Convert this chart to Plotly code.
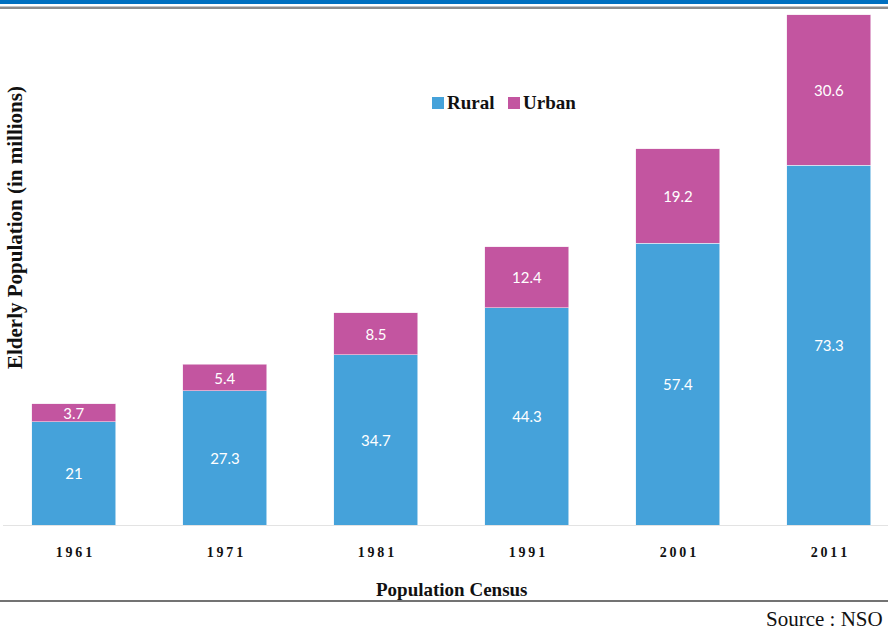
import plotly.graph_objects as go

years = ["1961", "1971", "1981", "1991", "2001", "2011"]
year_ticks = ["1\u20099\u20096\u20091", "1\u20099\u20097\u20091", "1\u20099\u20098\u20091",
              "1\u20099\u20099\u20091", "2\u20090\u20090\u20091", "2\u20090\u20091\u20091"]
rural = [21, 27.3, 34.7, 44.3, 57.4, 73.3]
urban = [3.7, 5.4, 8.5, 12.4, 19.2, 30.6]
series_names = ["Rural", "Urban"]

BLUE = "#45a2da"
MAGENTA = "#c355a0"
SERIF = "Liberation Serif"
LABEL_FONT = "Lato"


def px(x):
    return (x - 3) / 885


def py(y):
    return (525 - y) / 515


fig = go.Figure()
fig.add_trace(go.Bar(
    name=series_names[0], x=years, y=rural,
    marker=dict(color=BLUE, line=dict(width=0.6, color="#e8f2fa")),
    texttemplate="%{y}", textposition="inside", insidetextanchor="middle",
    constraintext="none", textfont=dict(family=LABEL_FONT, size=15, color="white"),
))
fig.add_trace(go.Bar(
    name=series_names[1], x=years, y=urban,
    marker=dict(color=MAGENTA, line=dict(width=0.6, color="#f3e2ee")),
    texttemplate="%{y}", textposition="inside", insidetextanchor="middle",
    constraintext="none", textfont=dict(family=LABEL_FONT, size=15, color="white"),
))

legend_shapes = [
    dict(type="rect", xref="paper", yref="paper", x0=px(432), x1=px(444),
         y0=py(109), y1=py(97), fillcolor=BLUE, line=dict(width=0)),
    dict(type="rect", xref="paper", yref="paper", x0=px(508), x1=px(520),
         y0=py(109), y1=py(97), fillcolor=MAGENTA, line=dict(width=0)),
]
legend_texts = [
    dict(text="<b>" + series_names[0] + "</b>", xref="paper", yref="paper", x=px(445), y=py(103),
         xanchor="left", yanchor="middle", showarrow=False,
         font=dict(family=SERIF, size=19, color="#111")),
    dict(text="<b>" + series_names[1] + "</b>", xref="paper", yref="paper", x=px(521), y=py(103),
         xanchor="left", yanchor="middle", showarrow=False,
         font=dict(family=SERIF, size=19, color="#111")),
]

fig.update_layout(
    barmode="stack",
    bargap=0.444,
    width=888, height=632,
    margin=dict(l=3, r=0, t=10, b=107),
    paper_bgcolor="white", plot_bgcolor="white",
    showlegend=False,
    xaxis=dict(type="category", tickmode="array", tickvals=years, ticktext=year_ticks,
               range=[-0.470, 5.391], showline=True, linecolor="#e3e3e3", linewidth=1,
               showgrid=False, ticks="", ticklabelstandoff=14,
               tickfont=dict(family=SERIF, size=14, color="#111", weight="bold")),
    yaxis=dict(range=[0, 104.9], showticklabels=False, showgrid=False, zeroline=False,
               showline=False, ticks=""),
    annotations=[
        dict(text="<b>Elderly Population (in millions)</b>", xref="paper", yref="paper",
             x=px(15), y=py(228), xanchor="center", yanchor="middle", textangle=-90,
             showarrow=False, font=dict(family=SERIF, size=21, color="#111")),
        dict(text="<b>Population Census</b>", xref="paper", yref="paper",
             x=px(452), y=py(589), xanchor="center", yanchor="middle",
             showarrow=False, font=dict(family=SERIF, size=19, color="#111")),
        dict(text="Source : NSO", xref="paper", yref="paper",
             x=px(885), y=py(619), xanchor="right", yanchor="middle",
             showarrow=False, font=dict(family=SERIF, size=21, color="#111")),
    ] + legend_texts,
    shapes=[
        dict(type="rect", xref="paper", yref="paper", x0=-0.01, x1=1.01,
             y0=py(4), y1=py(-1), fillcolor="#0070c0", line=dict(width=0)),
        dict(type="rect", xref="paper", yref="paper", x0=-0.01, x1=1.01,
             y0=py(9), y1=py(6.5), fillcolor="#8c8c8c", line=dict(width=0)),
        dict(type="line", xref="paper", yref="paper", x0=-0.01, x1=1.01,
             y0=py(601), y1=py(601), line=dict(color="#444", width=1.5)),
    ] + legend_shapes,
)

fig.write_html("out.html", config={"displayModeBar": False},
               post_script="document.body.style.margin='0';")
